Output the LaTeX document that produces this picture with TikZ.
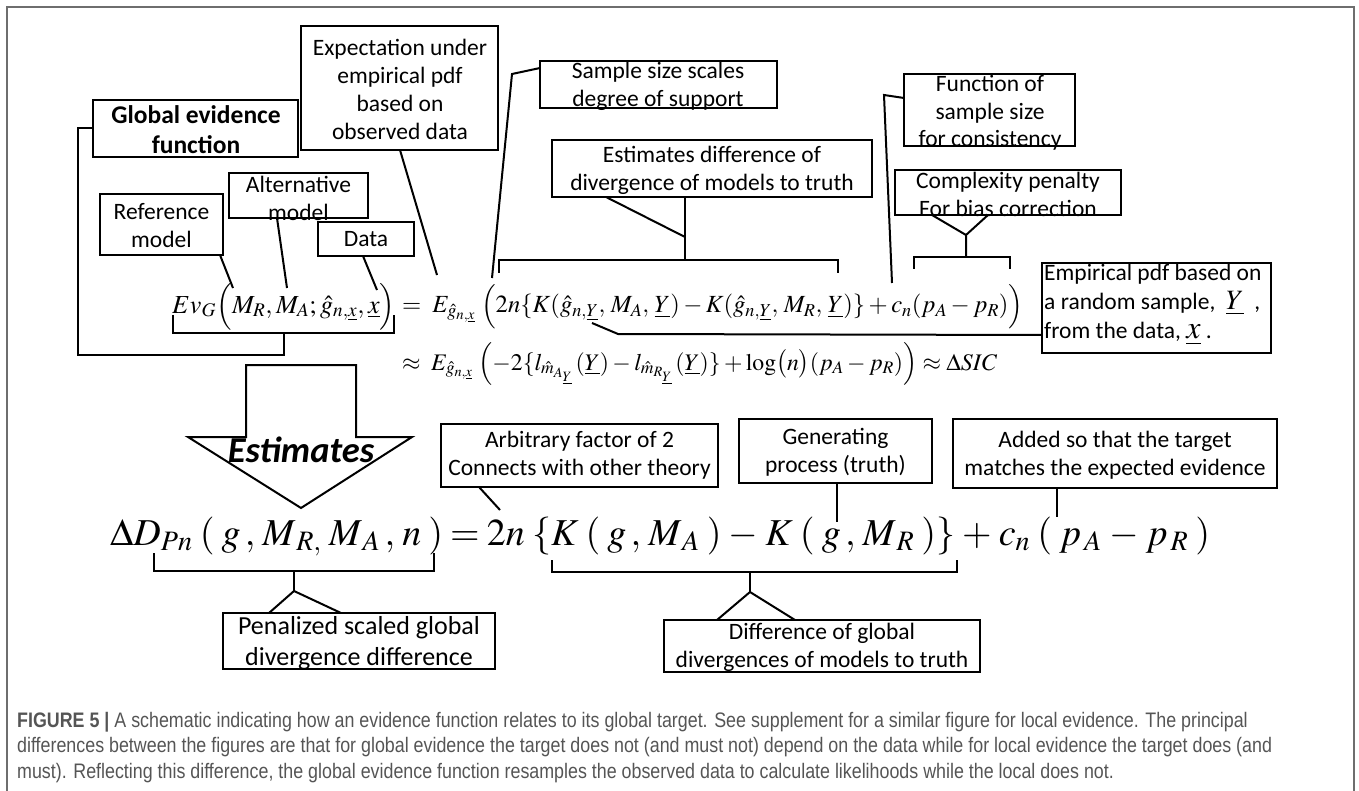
\documentclass[tikz,border=0pt]{standalone}
\usepackage{mathptmx}
\usepackage{graphicx}
\usepackage[no-math]{fontspec}
\setmainfont{Carlito}
\newfontfamily\capfont[FakeStretch=0.85]{Liberation Sans}
\usetikzlibrary{fit}
\definecolor{capgray}{RGB}{85,85,85}
\definecolor{framegray}{RGB}{110,110,110}
\tikzset{
  box/.style={draw, line width=2pt, inner sep=0pt, outer sep=0pt},
  lbl/.style={inner sep=0pt, align=center, font=\fontsize{23.5}{28}\selectfont},
  conn/.style={line width=2pt},
  fm/.style={anchor=base west, inner sep=0pt, font=\fontsize{26}{30}\selectfont},
  fmb/.style={anchor=base west, inner sep=0pt, font=\fontsize{38}{44}\selectfont}
}
\begin{document}
\begin{tikzpicture}[x=1pt,y=-1pt,line join=miter]
\useasboundingbox (0,0) rectangle (1359,791);
\draw[framegray, line width=1.5pt] (7,800) -- (7,7) -- (1354,7) -- (1354,800);

% ---------- boxes and labels ----------
\node[box, fit={(301,26)(498,150)}] (bExp) {};
\node[lbl] (tExp) at (400,89) {Expectation under\\empirical pdf\\based on\\observed data};
\node[box, fit={(93,100)(298,157)}] (bGlob) {};
\node[lbl, font=\bfseries\fontsize{25.5}{30}\selectfont] (tGlob) at (196,130) {Global evidence\\function};
\node[box, fit={(540,61)(777,108)}] (bSamp) {};
\node[lbl] (tSamp) at (658,86) {Sample size scales\\degree of support};
\node[box, fit={(552,140)(872,197)}] (bEstD) {};
\node[lbl] (tEstD) at (712,170) {Estimates difference of\\divergence of models to truth};
\node[box, fit={(904,74)(1075,146)}] (bFunc) {};
\node[lbl, font=\fontsize{23.5}{27.5}\selectfont] (tFunc) at (990,113) {Function of\\sample size\\for consistency};
\node[box, fit={(895,170)(1121,215)}] (bComp) {};
\node[lbl] (tComp) at (1008,194) {Complexity penalty\\For bias correction};
\node[box, fit={(1042,263)(1271,353)}] (bEmp) {};
\node[lbl, align=left, anchor=west, font=\fontsize{23.5}{29}\selectfont] (tEmp) at (1044,305) {Empirical pdf based on\\a random sample, \ {\fontsize{28}{29}\selectfont$\underline{Y}$}\ \ ,\\from the data, {\fontsize{32}{29}\selectfont$\underline{x}$} .};
\node[box, fit={(100,194)(223,255)}] (bRef) {};
\node[lbl] (tRef) at (161.5,226) {Reference\\model};
\node[box, fit={(229,173)(368,218)}] (bAlt) {};
\node[lbl] (tAlt) at (298.5,198) {Alternative\\model};
\node[box, fit={(318,222)(414,256)}] (bData) {};
\node[lbl] (tData) at (366,239) {Data};
\node[box, fit={(441,424)(718,487)}] (bArb) {};
\node[lbl] (tArb) at (579.5,455) {Arbitrary factor of 2\\Connects with other theory};
\node[box, fit={(739,419)(932,483)}] (bGen) {};
\node[lbl] (tGen) at (835.5,452) {Generating\\process (truth)};
\node[box, fit={(953,419)(1277,488)}] (bAdd) {};
\node[lbl] (tAdd) at (1115,455) {Added so that the target\\matches the expected evidence};
\node[box, fit={(223,613)(495,669)}] (bPen) {};
\node[lbl, font=\fontsize{26}{31}\selectfont] (tPen) at (359,643) {Penalized scaled global\\divergence difference};
\node[box, fit={(664,620)(980,672)}] (bDif) {};
\node[lbl] (tDif) at (822,647) {Difference of global\\divergences of models to truth};

% ---------- formulas ----------
\node[fm] (f1a) at (172,313) {\hbox to 223pt{$Ev_G\hfil\Bigl(M_R,\hfil M_A;\hfil\hat{g}_{n,\underline{x}},\hfil\underline{x}\Bigr)$}};
\node[fm] (f1b) at (402,313) {\resizebox{621pt}{!}{$=\;E_{\hat{g}_{n,\underline{x}}}\;\Bigl(2n\{K(\hat{g}_{n,\underline{Y}},\,M_A,\,\underline{Y})-K(\hat{g}_{n,\underline{Y}},\,M_R,\,\underline{Y})\}+c_n(p_A-p_R)\Bigr)$}};
\node[fm] (f1c) at (402,370) {\resizebox{595pt}{!}{$\approx\;E_{\hat{g}_{n,\underline{x}}}\;\Bigl(-2\{l_{\hat{m}_{A_{\underline{Y}}}}\,(\underline{Y})-l_{\hat{m}_{R_{\underline{Y}}}}\,(\underline{Y})\}+\log\bigl(n\bigr)(p_A-p_R)\Bigr)\approx\Delta SIC$}};
\node[fmb] (f2) at (110,545) {\hbox to 1100pt{$\Delta D_{Pn}$\hfil$($\hfil$g\,,$\hfil$M_{\,R,}$\hfil$M_{\,A}\,,$\hfil$n$\hfil$)$\hfil$=$\hfil$2n$\hfil$\{K$\hfil$($\hfil$g\,,$\hfil$M_{\,A}$\hfil$)$\hfil$-$\hfil$K$\hfil$($\hfil$g\,,$\hfil$M_{\,R}$\hfil$)\}$\hfil$+$\hfil$c_n$\hfil$($\hfil$p_{\,A}$\hfil$-$\hfil$p_{\,R}$\hfil$)$}};

% ---------- Estimates block arrow ----------
\draw[line width=2pt, fill=white] (246,365) -- (356,365) -- (356,437) -- (412,437) -- (301,508) -- (188,437) -- (246,437) -- cycle;
\node[inner sep=0pt, anchor=base, font=\bfseries\itshape\fontsize{36.5}{42}\selectfont] (tEsti) at (301,462) {Estimates};

% ---------- connector end points ----------
\coordinate (eRef) at (233,288);
\coordinate (eAlt) at (287,288);
\coordinate (eData) at (377,290);
\coordinate (eExp) at (437,275);
\coordinate (kSamp) at (512,74);
\coordinate (eSamp) at (492,278);
\coordinate (jEstD) at (685,237);
\coordinate (mEstD) at (685,260);
\coordinate (kFunc) at (884,95);
\coordinate (eFunc) at (892,283);
\coordinate (jComp) at (966,235);
\coordinate (mComp) at (966,257);
\coordinate (kEmp) at (618,334);
\coordinate (eEmp) at (592,323);
\coordinate (mEv) at (284,333);
\coordinate (lEv) at (284,355);
\coordinate (cEv) at (78,355);
\coordinate (eArb) at (500,510);
\coordinate (eGen) at (837,522);
\coordinate (eAdd) at (1057,517);
\coordinate (mPen) at (294,571);
\coordinate (jPen) at (294,591);
\coordinate (mDif) at (750,572);
\coordinate (jDif) at (750,592);

% ---------- connectors ----------
\draw[conn] ([xshift=120pt]bRef.south west) -- (eRef);
\draw[conn] ([xshift=48pt]bAlt.south west) -- (eAlt);
\draw[conn] ([xshift=45pt]bData.south west) -- (eData);
\draw[conn] ([xshift=99pt]bExp.south west) -- (eExp);
\draw[conn] ([yshift=-7pt]bSamp.north west) -- (kSamp) -- (eSamp);
\draw[conn] ([xshift=133pt]bEstD.south west) -- (mEstD);
\draw[conn] ([xshift=54pt]bEstD.south west) -- (jEstD);
\draw[conn] (499,273) -- (499,260) -- (838,260) -- (838,273);
\draw[conn] ([yshift=-24pt]bFunc.north west) -- (kFunc) -- (eFunc);
\draw[conn] ([xshift=37pt]bComp.south west) -- (jComp);
\draw[conn] ([xshift=93pt]bComp.south west) -- (jComp) -- (mComp);
\draw[conn] (914,269) -- (914,257) -- (1010,257) -- (1010,269);
\draw[conn] ([yshift=18pt]bEmp.south west) -- (kEmp) -- (eEmp);
\draw[conn] (173,315) -- (173,333) -- (394,333) -- (394,315);
\draw[conn] (mEv) -- (lEv) -- (cEv) |- (bGlob.west);
\draw[conn] ([xshift=38pt]bArb.south west) -- (eArb);
\draw[conn] ([xshift=98pt]bGen.south west) -- (eGen);
\draw[conn] ([xshift=104pt]bAdd.south west) -- (eAdd);
\draw[conn] (154,553) -- (154,571) -- (434,571) -- (434,553);
\draw[conn] (mPen) -- (jPen);
\draw[conn] ([xshift=46pt]bPen.north west) -- (jPen) -- ([xshift=118pt]bPen.north west);
\draw[conn] (552,560) -- (552,572) -- (957,572) -- (957,560);
\draw[conn] (mDif) -- (jDif);
\draw[conn] ([xshift=53pt]bDif.north west) -- (jDif) -- ([xshift=131pt]bDif.north west);

% ---------- caption ----------
\node[anchor=north west, align=left, inner sep=0pt, text=capgray, font=\capfont\fontsize{21}{25.5}\selectfont] (cap) at (17,712) {\textbf{FIGURE 5 |} A schematic indicating how an evidence function relates to its global target. See supplement for a similar figure for local evidence. The principal\\differences between the figures are that for global evidence the target does not (and must not) depend on the data while for local evidence the target does (and\\must). Reflecting this difference, the global evidence function resamples the observed data to calculate likelihoods while the local does not.};
\end{tikzpicture}
\end{document}
